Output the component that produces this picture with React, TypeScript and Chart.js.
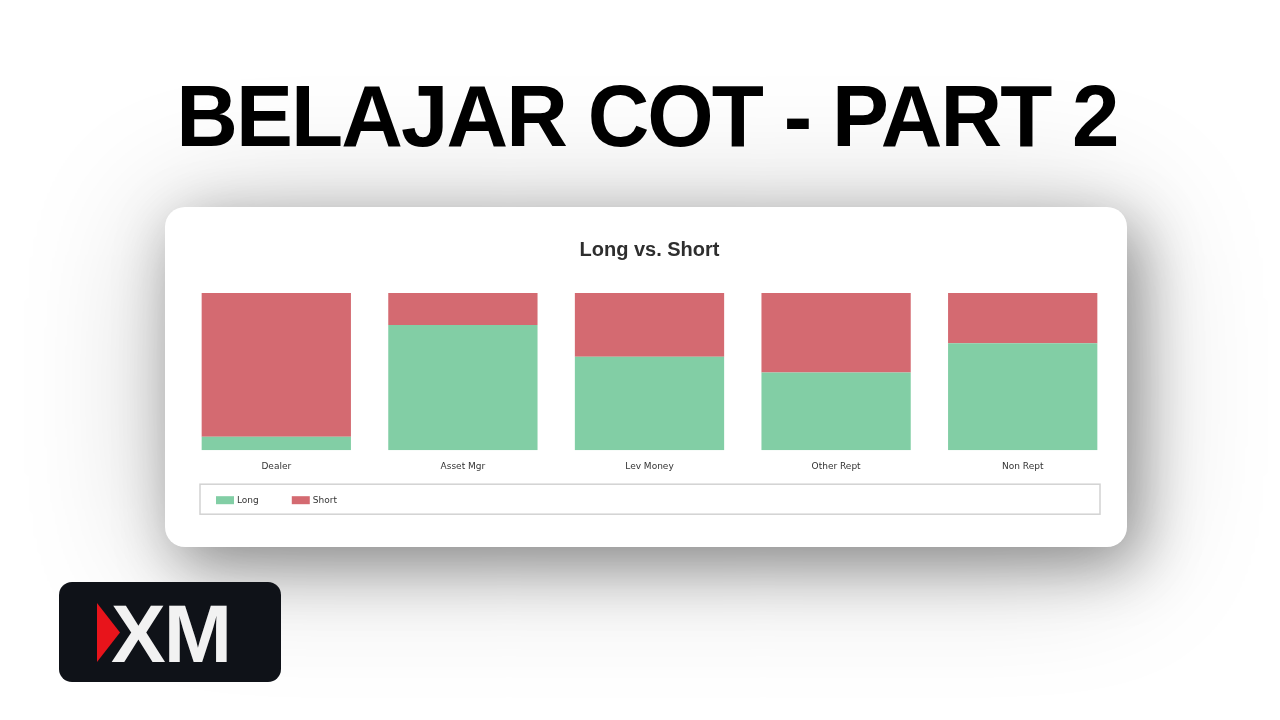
import React, { useEffect, useRef } from "react";
import { Chart, registerables } from "chart.js";

Chart.register(...registerables);

const pageTitle = "BELAJAR COT - PART 2";
const chartTitle = "Long vs. Short";
const categories = ["Dealer", "Asset Mgr", "Lev Money", "Other Rept", "Non Rept"];
const longValues = [8.5, 79.6, 59.4, 49.5, 68.0];
const shortValues = [91.5, 20.4, 40.6, 50.5, 32.0];
const seriesNames = ["Long", "Short"];
const seriesColors = ["#82cea5", "#d46a71"];

const boxedLegend = {
  id: "boxedLegend",
  afterDraw(chart: any) {
    const { ctx, chartArea } = chart;
    const left = chartArea.left + 17;
    const right = chartArea.right - 16;
    const top = chartArea.bottom + 34;
    const height = 30;
    ctx.save();
    ctx.strokeStyle = "#d2d2d2";
    ctx.lineWidth = 1.5;
    ctx.strokeRect(left, top, right - left, height);
    ctx.font = "9px 'DejaVu Sans'";
    ctx.textBaseline = "middle";
    ctx.textAlign = "left";
    let x = left + 16;
    const cy = top + 16;
    chart.data.datasets.forEach((ds: any) => {
      ctx.fillStyle = ds.backgroundColor;
      ctx.fillRect(x, cy - 4, 18, 8);
      ctx.fillStyle = "#333";
      ctx.fillText(ds.label, x + 21, cy);
      x += 21 + ctx.measureText(ds.label).width + 33;
    });
    ctx.restore();
  },
};

function CotChart() {
  const ref = useRef<HTMLCanvasElement | null>(null);
  useEffect(() => {
    if (!ref.current) return;
    const chart = new Chart(ref.current, {
      type: "bar",
      data: {
        labels: categories,
        datasets: [
          { label: seriesNames[0], data: longValues, backgroundColor: seriesColors[0] },
          { label: seriesNames[1], data: shortValues, backgroundColor: seriesColors[1] },
        ],
      },
      options: {
        responsive: false,
        animation: false,
        devicePixelRatio: 1,
        layout: { padding: { left: 18, right: 11, top: 21, bottom: 72 } },
        datasets: { bar: { barPercentage: 0.8, categoryPercentage: 1.0 } },
        plugins: {
          legend: { display: false },
          tooltip: { enabled: false },
          title: {
            display: true,
            text: chartTitle,
            color: "#2e2e2e",
            font: { family: "'Liberation Sans', Arial, sans-serif", size: 20, weight: "bold" },
            padding: { top: 10, bottom: 31 },
          },
        },
        scales: {
          x: {
            stacked: true,
            grid: { display: false },
            border: { display: false },
            ticks: { color: "#333", font: { family: "'DejaVu Sans'", size: 9 } },
          },
          y: { stacked: true, display: false, min: 0, max: 100 },
        },
      },
      plugins: [boxedLegend],
    });
    return () => chart.destroy();
  }, []);
  return <canvas ref={ref} width={962} height={340} style={{ display: "block" }} />;
}

export default function App() {
  return (
    <div
      style={{
        position: "absolute",
        left: 0,
        top: 0,
        width: 1280,
        height: 720,
        overflow: "hidden",
        background: "#ffffff",
        fontFamily: "'Liberation Sans', Arial, sans-serif",
      }}
    >
      <div
        style={{
          position: "absolute",
          left: 0,
          width: 1280,
          top: 72,
          textAlign: "center",
          fontSize: 88,
          lineHeight: "88px",
          fontWeight: "bold",
          letterSpacing: "-2px",
          color: "#000",
          transform: "translateX(7px) scaleX(0.97)",
          transformOrigin: "640px 0",
          whiteSpace: "nowrap",
        }}
      >
        {pageTitle}
      </div>
      <div
        style={{
          position: "absolute",
          left: 165,
          top: 207,
          width: 962,
          height: 340,
          background: "#fff",
          borderRadius: 20,
          boxShadow: "12px 18px 60px rgba(0,0,0,0.38), 0 10px 140px rgba(0,0,0,0.22)",
          overflow: "hidden",
        }}
      >
        <CotChart />
      </div>
      <div
        style={{
          position: "absolute",
          left: 59,
          top: 582,
          width: 222,
          height: 100,
          borderRadius: 13,
          background: "#0f1218",
        }}
      >
        <div
          style={{
            position: "absolute",
            left: 38,
            top: 21,
            width: 23,
            height: 59,
            background: "#e8141b",
            clipPath: "polygon(0 0, 100% 50%, 0 100%)",
          }}
        />
        <div
          style={{
            position: "absolute",
            left: 52,
            top: 11,
            fontSize: 82,
            lineHeight: "82px",
            fontWeight: "bold",
            letterSpacing: "-2px",
            color: "#f2f2f2",
          }}
        >
          XM
        </div>
      </div>
    </div>
  );
}
